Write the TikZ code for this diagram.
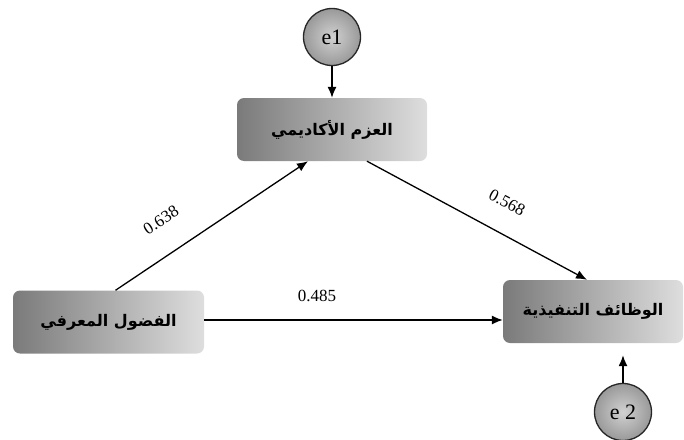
\documentclass[tikz,border=0pt]{standalone}
\usepackage{fontspec}
\setmainfont{Liberation Serif}
\newfontfamily\arabicfont[Script=Arabic]{DejaVu Sans}
\TeXXeTstate=1
\usetikzlibrary{arrows.meta}
\begin{document}
\begin{tikzpicture}[x=1pt,y=-1pt,
  box/.style={rounded corners=7pt, left color=black!52, right color=black!13,
    minimum height=63pt, inner sep=2pt, font=\arabicfont\bfseries\fontsize{16}{19}\selectfont},
  err/.style={circle, draw=black!85, line width=1.3pt, inner color=black!18, outer color=black!40,
    minimum size=57pt, inner sep=0pt, font=\fontsize{22}{24}\selectfont},
  path/.style={line width=1.3pt, -{Latex[length=11pt,width=9pt]}},
  coef/.style={font=\fontsize{17}{19}\selectfont}]
\useasboundingbox (0,0) rectangle (684,439);
\node[box, minimum width=190pt] (top) at (332,129.5) {\beginR العزم الأكاديمي\endR};
\node[box, minimum width=191pt] (left) at (108.5,322) {\beginR الفضول المعرفي\endR};
\node[box, minimum width=180pt] (right) at (593,311.5) {\beginR الوظائف التنفيذية\endR};
\node[err] (e1) at (332,37) {e1};
\node[err] (e2) at (623,412) {e 2};
\draw[path] (e1) -- (top);
\path (right.south -| e2.north) coordinate (rs);
\draw[path] (e2) -- ([yshift=-12pt]rs);
\draw[path] ([xshift=7pt]left.north) -- ([xshift=-24pt]top.south);
\draw[path] ([xshift=35pt]top.south) -- ([xshift=-6pt]right.north);
\path (left.east |- 0,320) coordinate (le);
\draw[path] (le) -- (le -| right.west);
\node[coef, rotate=33] (c1) at (161,220) {0.638};
\node[coef, rotate=-28] (c2) at (507,203) {0.568};
\node[coef] (c3) at (317,296) {0.485};
\end{tikzpicture}
\end{document}
